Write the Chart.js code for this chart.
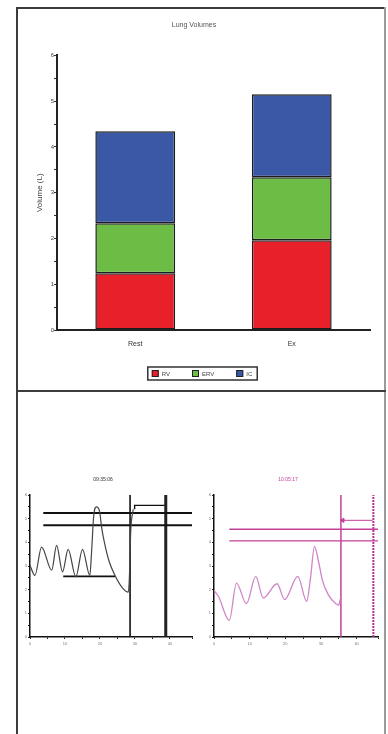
<!DOCTYPE html>
<html>
<head>
<meta charset="utf-8">
<script src="https://cdn.jsdelivr.net/npm/chart.js@4.4.1/dist/chart.umd.min.js"></script>
<style>
    body { margin: 0; background: #fff; width: 388px; height: 734px; overflow: hidden; position: relative; font-family: "Liberation Sans", Arial, sans-serif; }
    .rule { position: absolute; background: #3c3c3c; }
    canvas { position: absolute; }
</style>
</head>
<body>
<div class="rule" style="left:16px; top:7px; width:370px; height:2px;"></div>
<div class="rule" style="left:16px; top:7px; width:2px; height:727px;"></div>
<div class="rule" style="left:384px; top:7px; width:2px; height:727px; background:#9a9a9a;"></div>
<div class="rule" style="left:16px; top:390px; width:370px; height:2px;"></div>

<canvas id="volumesChart" width="366" height="380" style="left:18px; top:9px;"></canvas>
<canvas id="restTrace" width="184" height="184" style="left:14px; top:468px;"></canvas>
<canvas id="exTrace" width="186" height="184" style="left:198px; top:468px;"></canvas>

<script>
// 肺気量 (上の積み上げ棒グラフ)
const categories = ['Rest', 'Ex'];
const rvValues = [1.24, 1.96];
const ervValues = [1.09, 1.38];
const icValues = [2.01, 1.81];

// 左のトレース (黒)
const restCurveX = [0, 1.4, 3.3, 6.2, 7.6, 9.3, 10.9, 13.1, 15.0, 17.1, 17.6, 18.2, 19.0, 19.9, 20.5, 21.4, 22.6, 24.3, 26.3, 28.1, 28.4, 28.8, 29.5];
const restCurveY = [3.03, 2.6, 3.8, 2.82, 3.87, 2.75, 3.7, 2.54, 3.7, 2.6, 3.6, 5.1, 5.5, 5.3, 4.6, 3.9, 3.2, 2.6, 2.1, 1.9, 2.5, 4.5, 5.4];
const restLevels = [5.24, 4.72];
const restLevelX = [3.8, 46.5];
const restBaseX = [9.5, 24.3];
const restBaseY = 2.56;
const restMarkers = [28.6, 38.8];
const restBracketX = [29.9, 29.9, 38.8, 38.8];
const restBracketY = [5.4, 5.56, 5.56, 5.4];

// 右のトレース (マゼンタ)
const exCurveX = [0, 1.3, 4.3, 6.3, 9.1, 11.7, 13.8, 17.7, 19.8, 23.5, 26.0, 27.0, 28.2, 29.3, 30.4, 32.0, 34.2, 35.0, 35.4];
const exCurveY = [1.97, 1.7, 0.7, 2.28, 1.41, 2.56, 1.65, 2.25, 1.58, 2.56, 1.5, 2.4, 3.83, 3.2, 2.4, 1.8, 1.4, 1.35, 1.6];
const exLevels = [4.55, 4.06];
const exLevelX = [4.3, 46];
const exMarkers = [35.6, 44.7];
const exArrowX = [36.1, 44.5];
const exArrowY = 4.93;

const toPoints = (xs, ys) => xs.map((x, i) => ({ x: x, y: Array.isArray(ys) ? ys[i] : ys }));

/**
 * 枠付きの凡例を描く (データセットの色とラベルから)
 */
const boxLegend = {
    id: 'boxLegend',
    afterDraw(chart, args, opts) {
        const ctx = chart.ctx;
        const items = chart.data.datasets;
        const sq = 7, gap = 3, spacing = 22;
        ctx.save();
        ctx.font = '6px "Liberation Sans", Arial, sans-serif';
        const widths = items.map(ds => sq + gap + ctx.measureText(ds.label).width);
        const total = widths.reduce((a, b) => a + b, 0) + spacing * (items.length - 1);
        let x = opts.centerX - total / 2;
        const y = opts.top;

        ctx.strokeStyle = '#333';
        ctx.lineWidth = 1.5;
        ctx.strokeRect(x - 4, y - 3, total + 9, sq + 6);

        items.forEach((ds, i) => {
            ctx.fillStyle = ds.backgroundColor;
            ctx.fillRect(x, y, sq, sq);
            ctx.lineWidth = 1;
            ctx.strokeStyle = '#222';
            ctx.strokeRect(x + 0.5, y + 0.5, sq - 1, sq - 1);
            ctx.fillStyle = '#444';
            ctx.textBaseline = 'middle';
            ctx.fillText(ds.label, x + sq + gap, y + sq / 2 + 0.5);
            x += widths[i] + spacing;
        });
        ctx.restore();
    }
};

new Chart(document.getElementById('volumesChart'), {
    type: 'bar',
    data: {
        labels: categories,
        datasets: [
            { label: 'RV', data: rvValues, backgroundColor: '#e8202a' },
            { label: 'ERV', data: ervValues, backgroundColor: '#6cbc45' },
            { label: 'IC', data: icValues, backgroundColor: '#3a58a6' }
        ].map(ds => Object.assign(ds, {
            borderColor: '#1c1c1c',
            borderWidth: 1.5,
            borderSkipped: false,
            categoryPercentage: 1,
            barPercentage: 0.51
        }))
    },
    options: {
        responsive: false,
        animation: false,
        layout: { padding: { left: 0, right: 14, bottom: 39 } },
        plugins: {
            title: {
                display: true,
                text: 'Lung Volumes',
                color: '#555',
                font: { size: 7, weight: 'normal' },
                padding: { top: 12, bottom: 26 }
            },
            legend: { display: false },
            boxLegend: { centerX: 184, top: 361 },
            tooltip: { enabled: false }
        },
        scales: {
            x: {
                stacked: true,
                grid: { display: false },
                border: { color: '#222', width: 2 },
                ticks: { color: '#333', font: { size: 7 }, padding: 2 },
                afterFit: scale => { scale.height = 20; }
            },
            y: {
                stacked: true,
                min: 0,
                max: 6,
                grid: { drawOnChartArea: false, tickLength: 3, color: '#333' },
                border: { color: '#222', width: 2 },
                ticks: {
                    stepSize: 0.5,
                    color: '#444',
                    font: { size: 6 },
                    padding: 0,
                    callback: v => Number.isInteger(v) ? v : ''
                },
                title: {
                    display: true,
                    text: 'Volume (L)',
                    color: '#444',
                    font: { size: 8 },
                    padding: { top: 17, bottom: 0 }
                },
                afterFit: scale => { scale.width = 39; }
            }
        }
    },
    plugins: [boxLegend]
});

/**
 * 小さいトレースのグラフ
 */
function makeTrace(canvasId, title, titleColor, xMax, datasets) {
    return new Chart(document.getElementById(canvasId), {
        type: 'scatter',
        data: { datasets: datasets },
        options: {
            responsive: false,
            animation: false,
            layout: { padding: { right: 6 } },
            plugins: {
                title: {
                    display: true,
                    text: title,
                    color: titleColor,
                    font: { size: 5, weight: 'normal' },
                    padding: { top: 9, bottom: 12 }
                },
                legend: { display: false },
                tooltip: { enabled: false }
            },
            scales: {
                x: {
                    min: 0,
                    max: xMax,
                    grid: { drawOnChartArea: false, tickLength: 2, color: '#222' },
                    border: { color: '#111', width: 1.5 },
                    ticks: {
                        stepSize: 5,
                        color: '#777',
                        font: { size: 4 },
                        padding: 2,
                        maxRotation: 0,
                        callback: v => v % 10 === 0 ? v : ''
                    },
                    afterFit: scale => { scale.height = 15; }
                },
                y: {
                    min: 0,
                    max: 6,
                    grid: { drawOnChartArea: false, tickLength: 2, color: '#222' },
                    border: { color: '#111', width: 1.5 },
                    ticks: {
                        stepSize: 0.5,
                        color: '#777',
                        font: { size: 4 },
                        padding: 1,
                        callback: v => Number.isInteger(v) ? v : ''
                    },
                    afterFit: scale => { scale.width = 16; }
                }
            },
            elements: { point: { radius: 0 } }
        }
    });
}

const lineSet = (points, color, width, extra) => Object.assign({
    data: points,
    showLine: true,
    borderColor: color,
    backgroundColor: color,
    borderWidth: width,
    pointRadius: 0,
    tension: 0
}, extra || {});

makeTrace('restTrace', '09:35:06', '#333', 46.3, [
    lineSet(toPoints(restCurveX, restCurveY), '#444', 1.2, { cubicInterpolationMode: 'monotone' }),
    lineSet(toPoints(restLevelX, restLevels[0]), '#111', 2),
    lineSet(toPoints(restLevelX, restLevels[1]), '#111', 2),
    lineSet(toPoints(restBaseX, restBaseY), '#111', 1.6),
    lineSet(toPoints([restMarkers[0], restMarkers[0]], [0, 6]), '#111', 1.6),
    lineSet(toPoints([restMarkers[1], restMarkers[1]], [0, 6]), '#222', 3),
    lineSet(toPoints(restBracketX, restBracketY), '#111', 1.4)
]);

makeTrace('exTrace', '10:05:17', '#c2409a', 46, [
    lineSet(toPoints(exCurveX, exCurveY), '#cf86c6', 1.3, { cubicInterpolationMode: 'monotone' }),
    lineSet(toPoints(exLevelX, exLevels[0]), '#c2409a', 1.5),
    lineSet(toPoints(exLevelX, exLevels[1]), '#c2409a', 1.3),
    lineSet(toPoints([exMarkers[0], exMarkers[0]], [0, 6]), '#c2409a', 1.5),
    lineSet(toPoints([exMarkers[1], exMarkers[1]], [0, 6]), '#b8338f', 2, { borderDash: [2, 1] }),
    lineSet(toPoints(exArrowX, exArrowY), '#c2409a', 1, {
        pointRadius: [2.5, 0],
        pointStyle: 'triangle',
        rotation: -90
    })
]);
</script>
</body>
</html>
